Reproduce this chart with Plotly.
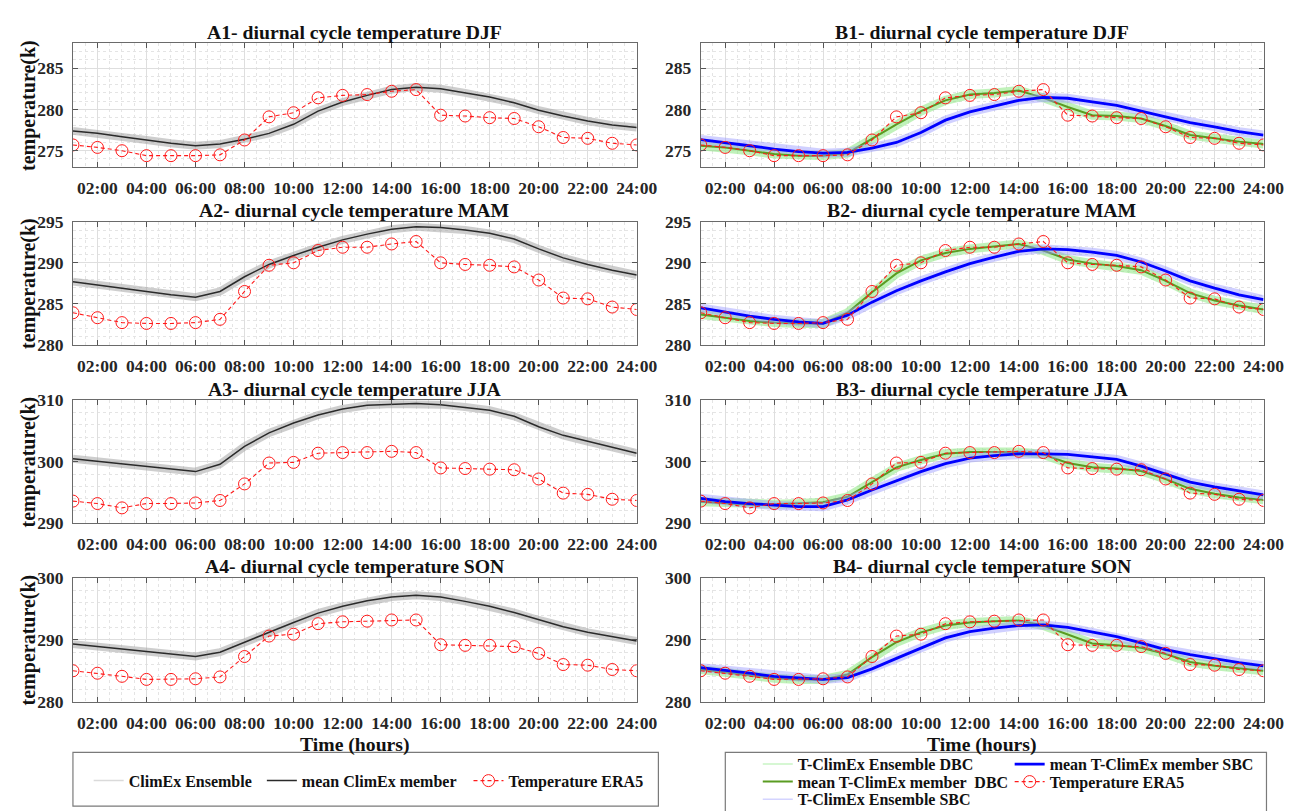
import plotly.graph_objects as go

# ---------------- data ----------------
hours = list(range(1, 25))
tick_hours = list(range(2, 25, 2))
tick_labels = ["%02d:00" % h for h in tick_hours]
seasons = ["DJF", "MAM", "JJA", "SON"]

era5_djf = [275.7, 275.4, 275.0, 274.4, 274.4, 274.4, 274.5, 276.3, 279.1, 279.6, 281.4, 281.7,
            281.8, 282.2, 282.4, 279.3, 279.2, 279.0, 278.9, 277.9, 276.6, 276.5, 275.9, 275.7]
climex_djf = [277.4, 277.1, 276.7, 276.3, 275.9, 275.6, 275.8, 276.4, 277.1, 278.2, 279.8, 280.9,
              281.7, 282.4, 282.7, 282.5, 282.0, 281.5, 280.8, 279.9, 279.2, 278.6, 278.1, 277.8]
dbc_djf = [275.6, 275.4, 275.0, 274.6, 274.4, 274.4, 274.7, 276.5, 278.2, 279.8, 281.1, 281.8,
           282.0, 282.3, 281.4, 280.3, 279.3, 279.2, 278.9, 278.0, 276.9, 276.5, 276.1, 275.8]
sbc_djf = [276.35, 276.0, 275.6, 275.2, 274.9, 274.7, 274.8, 275.3, 276.0, 277.2, 278.7, 279.7,
           280.4, 281.1, 281.45, 281.35, 280.9, 280.5, 279.8, 279.1, 278.4, 277.9, 277.3, 276.9]

era5_mam = [283.9, 283.3, 282.7, 282.6, 282.6, 282.7, 283.1, 286.5, 289.7, 290.0, 291.5, 291.9,
            291.9, 292.3, 292.6, 290.0, 289.8, 289.7, 289.5, 287.9, 285.7, 285.6, 284.6, 284.3]
climex_mam = [287.7, 287.3, 286.9, 286.5, 286.1, 285.8, 286.5, 288.3, 289.8, 290.9, 291.9, 292.8,
              293.5, 294.1, 294.4, 294.3, 294.0, 293.6, 292.9, 291.7, 290.6, 289.8, 289.1, 288.5]
dbc_mam = [283.7, 283.3, 282.9, 282.7, 282.6, 282.6, 283.9, 286.4, 288.7, 290.3, 291.2, 291.7,
           292.0, 292.3, 291.5, 290.4, 289.9, 289.6, 289.1, 287.8, 286.3, 285.4, 284.8, 284.3]
sbc_mam = [284.5, 284.0, 283.5, 283.1, 282.8, 282.6, 283.6, 285.2, 286.6, 287.8, 288.9, 289.9,
           290.7, 291.4, 291.7, 291.6, 291.3, 290.9, 290.1, 289.0, 287.8, 286.9, 286.1, 285.5]

era5_jja = [293.6, 293.2, 292.5, 293.2, 293.2, 293.3, 293.7, 296.4, 299.8, 299.9, 301.4, 301.5,
            301.5, 301.7, 301.5, 299.0, 298.9, 298.8, 298.7, 297.2, 294.9, 294.7, 293.9, 293.7]
climex_jja = [300.5, 300.1, 299.7, 299.2, 298.8, 298.4, 299.6, 302.5, 304.7, 306.3, 307.6, 308.6,
              309.2, 309.4, 309.5, 309.3, 308.9, 308.4, 307.4, 305.7, 304.3, 303.3, 302.3, 301.4]
dbc_jja = [293.5, 293.3, 293.0, 293.1, 293.2, 293.4, 294.3, 296.7, 299.1, 300.3, 301.3, 301.6,
           301.6, 301.6, 301.2, 299.8, 299.1, 298.9, 298.5, 297.2, 295.6, 294.8, 294.2, 293.8]
sbc_jja = [294.05, 293.5, 293.2, 292.9, 292.7, 292.7, 293.8, 295.4, 296.9, 298.4, 299.7, 300.6,
           301.0, 301.3, 301.3, 301.2, 300.8, 300.4, 299.3, 298.0, 296.7, 295.9, 295.2, 294.6]

era5_son = [285.0, 284.6, 284.1, 283.6, 283.6, 283.7, 284.0, 287.3, 290.6, 290.9, 292.6, 292.9,
            293.0, 293.2, 293.2, 289.2, 289.1, 289.1, 288.9, 287.8, 286.0, 285.9, 285.2, 285.0]
climex_son = [289.3, 288.9, 288.5, 288.1, 287.6, 287.3, 288.0, 289.6, 291.3, 292.8, 294.3, 295.4,
              296.3, 296.9, 297.2, 296.9, 296.2, 295.4, 294.4, 293.2, 292.1, 291.2, 290.5, 289.8]
dbc_son = [285.2, 284.7, 284.2, 283.8, 283.6, 283.6, 284.4, 287.2, 289.6, 291.2, 292.3, 292.8,
           293.0, 293.1, 292.3, 290.9, 289.4, 289.1, 288.7, 287.7, 286.4, 285.8, 285.4, 285.0]
sbc_son = [285.5, 285.1, 284.6, 284.1, 283.8, 283.6, 283.9, 285.3, 287.0, 288.7, 290.3, 291.3,
           291.9, 292.3, 292.4, 292.0, 291.2, 290.5, 289.5, 288.4, 287.6, 286.9, 286.3, 285.8]

era5 = [era5_djf, era5_mam, era5_jja, era5_son]
climex = [climex_djf, climex_mam, climex_jja, climex_son]
dbc = [dbc_djf, dbc_mam, dbc_jja, dbc_son]
sbc = [sbc_djf, sbc_mam, sbc_jja, sbc_son]

y_ranges = [[273, 288], [280, 295], [290, 310], [280, 300]]
y_dticks = [5, 5, 10, 10]
y_minor = [1, 1, 2, 2]

# ---------------- layout helpers ----------------
W, H = 1309, 811
FONT = "Liberation Serif"
TXT = "#262626"
col_px = [(66, 639), (704, 1276)]
row_px = [(26, 153), (209, 335), (392, 518), (574, 701)]


def px_x(p):
    return p / W


def px_y(p):
    return 1 - p / H


fig = go.Figure()

C_ENS = "rgba(165,165,165,0.55)"
C_MEAN = "#2a2a2a"
C_DBC_ENS = "rgba(140,232,130,0.55)"
C_DBC = "#5a9c22"
C_SBC_ENS = "rgba(150,150,255,0.45)"
C_SBC = "#0000ff"
C_ERA = "#ff1a1a"

era_line = dict(color=C_ERA, width=1.1, dash="4px,3px")
era_marker = dict(symbol="circle-open", size=12, color=C_ERA, line=dict(width=1, color=C_ERA))

for r in range(4):
    for c in range(2):
        n = r * 2 + c + 1
        xa = "x" if n == 1 else "x%d" % n
        ya = "y" if n == 1 else "y%d" % n
        first = (r == 0)
        if c == 0:
            fig.add_trace(go.Scatter(x=hours, y=climex[r], mode="lines", xaxis=xa, yaxis=ya,
                                     line=dict(color=C_ENS, width=8), showlegend=False, hoverinfo="skip"))
            fig.add_trace(go.Scatter(x=hours, y=climex[r], mode="lines", xaxis=xa, yaxis=ya,
                                     name="mean ClimEx member", legend="legend7",
                                     line=dict(color=C_MEAN, width=1.5), showlegend=first))
            fig.add_trace(go.Scatter(x=hours, y=era5[r], mode="lines+markers", xaxis=xa, yaxis=ya,
                                     name="Temperature ERA5", legend="legend8",
                                     line=era_line, marker=era_marker, showlegend=first))
        else:
            fig.add_trace(go.Scatter(x=hours, y=dbc[r], mode="lines", xaxis=xa, yaxis=ya,
                                     line=dict(color=C_DBC_ENS, width=9), showlegend=False, hoverinfo="skip"))
            fig.add_trace(go.Scatter(x=hours, y=dbc[r], mode="lines", xaxis=xa, yaxis=ya,
                                     name="mean T-ClimEx member  DBC", legend="legend3",
                                     line=dict(color=C_DBC, width=2), showlegend=first))
            fig.add_trace(go.Scatter(x=hours, y=sbc[r], mode="lines", xaxis=xa, yaxis=ya,
                                     line=dict(color=C_SBC_ENS, width=9), showlegend=False, hoverinfo="skip"))
            fig.add_trace(go.Scatter(x=hours, y=sbc[r], mode="lines", xaxis=xa, yaxis=ya,
                                     name="mean T-ClimEx member SBC", legend="legend5",
                                     line=dict(color=C_SBC, width=2.8), showlegend=first))
            fig.add_trace(go.Scatter(x=hours, y=era5[r], mode="lines+markers", xaxis=xa, yaxis=ya,
                                     name="Temperature ERA5", legend="legend6",
                                     line=era_line, marker=era_marker, showlegend=first))

# legend-only entries for the ensembles (thin lines as in the original key)
fig.add_trace(go.Scatter(x=[None], y=[None], mode="lines", name="ClimEx Ensemble", legend="legend",
                         line=dict(color="#dadada", width=1.5)))
fig.add_trace(go.Scatter(x=[None], y=[None], mode="lines", name="T-ClimEx Ensemble DBC", legend="legend2",
                         line=dict(color="#c8f4c4", width=1.5)))
fig.add_trace(go.Scatter(x=[None], y=[None], mode="lines", name="T-ClimEx Ensemble SBC", legend="legend4",
                         line=dict(color="#d4d4ff", width=1.5)))

axis_font = dict(family=FONT, size=17.5, color=TXT, weight="bold")
layout = dict(width=W, height=H, margin=dict(l=0, r=0, t=0, b=0),
              paper_bgcolor="white", plot_bgcolor="white", showlegend=True,
              font=dict(family=FONT, color=TXT))

for r in range(4):
    for c in range(2):
        n = r * 2 + c + 1
        kx = "xaxis" if n == 1 else "xaxis%d" % n
        ky = "yaxis" if n == 1 else "yaxis%d" % n
        ya = "y" if n == 1 else "y%d" % n
        xa = "x" if n == 1 else "x%d" % n
        layout[kx] = dict(domain=[px_x(col_px[c][0]), px_x(col_px[c][1])], anchor=ya,
                          range=[1, 24], tickmode="array", tickvals=tick_hours, ticktext=tick_labels,
                          ticks="inside", ticklen=5, tickcolor="#555", showline=True, linecolor="#6a6a6a",
                          linewidth=1, mirror="allticks", showgrid=True, gridcolor="#dedede", gridwidth=1,
                          zeroline=False, tickfont=axis_font, ticklabelstandoff=5,
                          minor=dict(tickmode="linear", tick0=0, dtick=0.5, showgrid=True,
                                     gridcolor="#e4e4e4", griddash="dot", ticks=""))
        layout[ky] = dict(domain=[px_y(row_px[r][1]), px_y(row_px[r][0])], anchor=xa,
                          range=y_ranges[r], tickmode="linear", tick0=0, dtick=y_dticks[r],
                          ticks="inside", ticklen=5, tickcolor="#555", showline=True, linecolor="#6a6a6a",
                          linewidth=1, mirror="allticks", showgrid=True, gridcolor="#dedede", gridwidth=1,
                          zeroline=False, tickfont=axis_font, ticklabelstandoff=5,
                          minor=dict(tickmode="linear", tick0=0, dtick=y_minor[r], showgrid=True,
                                     gridcolor="#e4e4e4", griddash="dot", ticks=""))

ann = []
title_font = dict(family=FONT, size=19.7, color="#111", weight="bold")
ylab_font = dict(family=FONT, size=20, color="#111", weight="bold")
for r in range(4):
    for c in range(2):
        label = ("A%d" if c == 0 else "B%d") % (r + 1)
        ann.append(dict(text="%s- diurnal cycle temperature %s" % (label, seasons[r]),
                        x=px_x((col_px[c][0] + col_px[c][1]) / 2), y=px_y(row_px[r][0] - 12),
                        xref="paper", yref="paper", showarrow=False, xanchor="center", yanchor="middle",
                        font=title_font))
    ann.append(dict(text="temperature(k)", x=px_x(21), y=px_y((row_px[r][0] + row_px[r][1]) / 2),
                    xref="paper", yref="paper", showarrow=False, textangle=-90,
                    xanchor="center", yanchor="middle", font=ylab_font))
for c in range(2):
    ann.append(dict(text="Time (hours)", x=px_x((col_px[c][0] + col_px[c][1]) / 2), y=px_y(745),
                    xref="paper", yref="paper", showarrow=False, xanchor="center", yanchor="middle",
                    font=title_font))
layout["annotations"] = ann

layout["shapes"] = [
    dict(type="rect", xref="paper", yref="paper", x0=px_x(66), x1=px_x(661), y0=px_y(808), y1=px_y(753),
         line=dict(color="#7a7a7a", width=1.2), fillcolor="rgba(0,0,0,0)", layer="below"),
    dict(type="rect", xref="paper", yref="paper", x0=px_x(729), x1=px_x(1279), y0=px_y(815), y1=px_y(753),
         line=dict(color="#7a7a7a", width=1.2), fillcolor="rgba(0,0,0,0)", layer="below"),
]

leg_font = dict(family=FONT, size=16, color="#111", weight="bold")
common_leg = dict(font=leg_font, bgcolor="rgba(0,0,0,0)", borderwidth=0, xref="paper", yref="paper",
                  xanchor="left", yanchor="middle")
# key of the left column (one row)
layout["legend"] = dict(common_leg, x=px_x(82), y=px_y(782))
layout["legend7"] = dict(common_leg, x=px_x(258), y=px_y(782))
layout["legend8"] = dict(common_leg, x=px_x(468), y=px_y(782))
# key of the right column (two columns)
layout["legend2"] = dict(common_leg, x=px_x(762), y=px_y(765))
layout["legend3"] = dict(common_leg, x=px_x(762), y=px_y(783))
layout["legend4"] = dict(common_leg, x=px_x(762), y=px_y(801))
layout["legend5"] = dict(common_leg, x=px_x(1018), y=px_y(765))
layout["legend6"] = dict(common_leg, x=px_x(1018), y=px_y(783))

fig.update_layout(**layout)
fig.write_html("out.html")
